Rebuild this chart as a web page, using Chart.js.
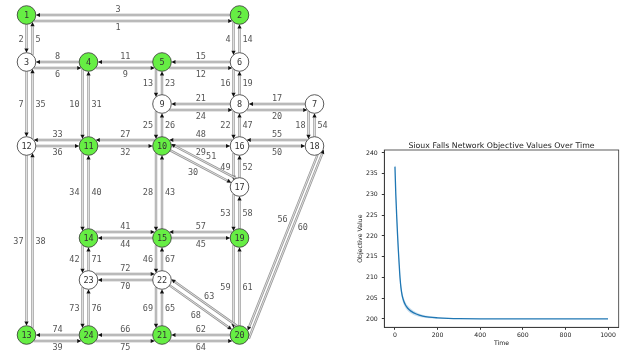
<!DOCTYPE html>
<html>
<head>
<meta charset="utf-8">
<script src="https://cdn.jsdelivr.net/npm/chart.js@4.4.1/dist/chart.umd.min.js"></script>
<style>
  html, body { margin: 0; padding: 0; background: #fff; }
  body { width: 638px; height: 356px; position: relative; overflow: hidden; }
  #netWrap { position: absolute; left: 0; top: 0; }
  #objWrap { position: absolute; left: 338px; top: 130px; }
</style>
</head>
<body>
<div id="netWrap"><canvas id="networkChart" width="336" height="356"></canvas></div>
<div id="objWrap"><canvas id="objectiveChart" width="300" height="226"></canvas></div>
<script>
// Sioux Falls nodes, drawing coordinates (y grows downward)
const nodeIds = [1, 2, 3, 4, 5, 6, 7, 8, 9, 10, 11, 12, 13, 14, 15, 16, 17, 18, 19, 20, 21, 22, 23, 24];
const nodeX = [26.5, 239.5, 26.5, 88.5, 162, 239.5, 314.5, 239.5, 162, 162, 88.5, 26.5,
               26.5, 88.5, 162, 239.5, 239.5, 314.5, 239.5, 239.5, 162, 162, 88.5, 88.5];
const nodeY = [15, 15, 62, 62, 62, 62, 104, 104, 104, 146, 146, 146,
               335, 238, 238, 146, 187, 146, 238, 335, 335, 280, 280, 335];
const greenNodes = [1, 2, 4, 5, 10, 11, 13, 14, 15, 19, 20, 21, 24];

// directed links, link id = index + 1
const linkFrom = [1, 1, 2, 2, 3, 3, 3, 4, 4, 4, 5, 5, 5, 6, 6, 6, 7, 7, 8, 8, 8, 8, 9, 9, 9,
                  10, 10, 10, 10, 10, 11, 11, 11, 11, 12, 12, 12, 13, 13, 14, 14, 14, 15, 15, 15, 15,
                  16, 16, 16, 16, 17, 17, 17, 18, 18, 18, 19, 19, 19, 20, 20, 20, 20, 21, 21, 21,
                  22, 22, 22, 22, 23, 23, 23, 24, 24, 24];
const linkTo = [2, 3, 1, 6, 1, 4, 12, 3, 5, 11, 4, 6, 9, 2, 5, 8, 8, 18, 6, 7, 9, 16, 5, 8, 10,
                9, 11, 15, 16, 17, 4, 10, 12, 14, 3, 11, 13, 12, 24, 11, 15, 23, 10, 14, 19, 22,
                8, 10, 17, 18, 10, 16, 19, 7, 16, 20, 15, 17, 20, 18, 19, 21, 22, 20, 22, 24,
                15, 20, 21, 23, 14, 22, 24, 13, 21, 23];

// objective over time
const timeSteps = [0, 4, 8, 12, 16, 20, 24, 28, 34, 42, 50, 60, 75, 100, 130, 160, 200, 250, 300, 400, 500, 600, 700, 800, 900, 1000];
const objective = [236.7, 230.0, 225.0, 220.5, 216.5, 213.0, 209.8, 207.6, 205.6, 204.2, 203.3, 202.6, 201.9,
                   201.2, 200.7, 200.45, 200.28, 200.15, 200.08, 200.05, 200.05, 200.05, 200.05, 200.05, 200.05, 200.05];
const bandUpper = [238.3, 231.6, 226.5, 221.9, 217.8, 214.2, 210.9, 208.6, 206.5, 205.0, 204.0, 203.25, 202.45,
                   201.65, 201.05, 200.7, 200.42, 200.22, 200.12, 200.07, 200.07, 200.07, 200.07, 200.07, 200.07, 200.07];
const bandLower = [235.1, 228.4, 223.5, 219.1, 215.2, 211.8, 208.7, 206.6, 204.7, 203.4, 202.6, 201.95, 201.35,
                   200.75, 200.35, 200.2, 200.14, 200.08, 200.04, 200.03, 200.03, 200.03, 200.03, 200.03, 200.03, 200.03];
const timeTicks = [0, 200, 400, 600, 800, 1000];
const objectiveTicks = [200, 205, 210, 215, 220, 225, 230, 235, 240];
const chartTitle = 'Sioux Falls Network Objective Values Over Time';

// drawing layout: lateral shift of each directed link (px, along its right-hand normal)
const laneOffset = [6, 0, 0, 6, 6, 6, 0, 0, 6, 6, 0, 6, 6, 0, 0, 6, 0, 6, 0, 6, 0, 6, 0, 6, 6,
                    0, 6, 6, 0, 0, 0, 0, 6, 6, 6, 0, 0, 6, 6, 0, -6, 6, 0, 0, 0, 6,
                    0, 6, 6, 0, 6, 0, 6, 0, 6, -6, 6, 0, 6, 10, 0, 0, 6, 6, 0, 0,
                    0, 0, 6, 0, 0, -6, 6, 0, 6, 0];
const labelAt = { 1: 0.43, 3: 0.57, 30: 0.45, 51: 0.45, 56: 0.39, 60: 0.61 };

const NODE_R = 9.3;
const MONO = "'DejaVu Sans Mono', monospace";
const SANS = "'DejaVu Sans', sans-serif";

function partnerOf(i) {
  return linkFrom.findIndex((f, j) => f === linkTo[i] && linkTo[j] === linkFrom[i]);
}

function linkGeometry(xs, ys, i) {
  const a = linkFrom[i] - 1, b = linkTo[i] - 1;
  const ax = xs.getPixelForValue(nodeX[a]), ay = ys.getPixelForValue(nodeY[a]);
  const bx = xs.getPixelForValue(nodeX[b]), by = ys.getPixelForValue(nodeY[b]);
  const len = Math.hypot(bx - ax, by - ay);
  const dx = (bx - ax) / len, dy = (by - ay) / len;
  const nx = -dy, ny = dx;
  const o = laneOffset[i];
  const inset = Math.sqrt(Math.max(NODE_R * NODE_R - o * o, 0));
  return {
    ax, ay, len, dx, dy, nx, ny, o,
    sx: ax + nx * o + dx * inset, sy: ay + ny * o + dy * inset,
    ex: bx + nx * o - dx * inset, ey: by + ny * o - dy * inset
  };
}

const linkPlugin = {
  id: 'siouxLinks',
  beforeDatasetsDraw(chart) {
    const { ctx, scales: { x, y } } = chart;
    ctx.save();
    linkFrom.forEach((_, i) => {
      const g = linkGeometry(x, y, i);
      const arrowLen = 4.2, arrowHalf = 2.1;
      const bxp = g.ex - g.dx * arrowLen, byp = g.ey - g.dy * arrowLen;

      ctx.lineCap = 'butt';
      ctx.strokeStyle = '#969696';
      ctx.lineWidth = 2.4;
      ctx.beginPath();
      ctx.moveTo(g.sx, g.sy);
      ctx.lineTo(bxp, byp);
      ctx.stroke();
      ctx.strokeStyle = '#f0f0f0';
      ctx.lineWidth = 0.8;
      ctx.beginPath();
      ctx.moveTo(g.sx, g.sy);
      ctx.lineTo(bxp, byp);
      ctx.stroke();

      ctx.fillStyle = '#111';
      ctx.beginPath();
      ctx.moveTo(g.ex, g.ey);
      ctx.lineTo(bxp + g.nx * arrowHalf, byp + g.ny * arrowHalf);
      ctx.lineTo(bxp - g.nx * arrowHalf, byp - g.ny * arrowHalf);
      ctx.closePath();
      ctx.fill();
    });

    // link ids
    ctx.font = '8.5px ' + MONO;
    ctx.fillStyle = '#555';
    ctx.textAlign = 'center';
    ctx.textBaseline = 'alphabetic';
    const h = 6.2;
    linkFrom.forEach((_, i) => {
      const g = linkGeometry(x, y, i);
      const id = i + 1;
      const p = partnerOf(i);
      const side = Math.sign(g.o + laneOffset[p]) || 1;
      const t = labelAt[id] ?? 0.5;
      const text = String(id);
      const w = ctx.measureText(text).width;
      const dist = 3 + Math.abs(g.nx) * w / 2 + Math.abs(g.ny) * h / 2;
      const bx0 = g.ax + g.dx * g.len * t + g.nx * g.o;
      const by0 = g.ay + g.dy * g.len * t + g.ny * g.o;
      const cx = bx0 + g.nx * side * dist;
      const cy = by0 + g.ny * side * dist;
      ctx.fillText(text, cx, cy + h / 2);
    });
    ctx.restore();
  },
  afterDatasetsDraw(chart) {
    const { ctx, scales: { x, y } } = chart;
    ctx.save();
    ctx.font = '8.5px ' + MONO;
    ctx.fillStyle = '#333';
    ctx.textAlign = 'center';
    ctx.textBaseline = 'alphabetic';
    nodeIds.forEach((id, i) => {
      ctx.fillText(String(id), x.getPixelForValue(nodeX[i]), y.getPixelForValue(nodeY[i]) + 3.1);
    });
    ctx.restore();
  }
};

new Chart(document.getElementById('networkChart'), {
  type: 'scatter',
  data: {
    datasets: [{
      label: 'nodes',
      data: nodeX.map((nx, i) => ({ x: nx, y: nodeY[i] })),
      pointRadius: NODE_R,
      pointHoverRadius: NODE_R,
      backgroundColor: nodeIds.map(id => greenNodes.includes(id) ? '#66ee44' : '#ffffff'),
      borderColor: '#333',
      borderWidth: 0.8,
      clip: false
    }]
  },
  options: {
    responsive: false,
    animation: false,
    events: [],
    layout: { padding: 0, autoPadding: false },
    plugins: { legend: { display: false }, tooltip: { enabled: false } },
    scales: {
      x: { type: 'linear', min: 0, max: 336, display: false },
      y: { type: 'linear', min: 0, max: 356, reverse: true, display: false }
    }
  },
  plugins: [linkPlugin]
});

// matplotlib-like frame, title centred over the axes box
const framePlugin = {
  id: 'axesFrame',
  afterDraw(chart) {
    const { ctx, chartArea: a } = chart;
    ctx.save();
    ctx.strokeStyle = '#333';
    ctx.lineWidth = 0.8;
    ctx.strokeRect(a.left, a.top, a.right - a.left, a.bottom - a.top);
    ctx.font = '7.8px ' + SANS;
    ctx.fillStyle = '#222';
    ctx.textAlign = 'center';
    ctx.textBaseline = 'alphabetic';
    ctx.fillText(chartTitle, (a.left + a.right) / 2, a.top - 1.6);
    ctx.restore();
  }
};

const tickFont = { family: SANS, size: 6.2 };

new Chart(document.getElementById('objectiveChart'), {
  type: 'line',
  data: {
    datasets: [
      {
        label: 'upper',
        data: timeSteps.map((t, i) => ({ x: t, y: bandUpper[i] })),
        borderWidth: 0, pointRadius: 0, fill: false, order: 1
      },
      {
        label: 'lower',
        data: timeSteps.map((t, i) => ({ x: t, y: bandLower[i] })),
        borderWidth: 0, pointRadius: 0, fill: '-1',
        backgroundColor: 'rgba(31, 119, 180, 0.22)', order: 1
      },
      {
        label: 'Objective Value',
        data: timeSteps.map((t, i) => ({ x: t, y: objective[i] })),
        borderColor: '#1f77b4', borderWidth: 1.3, pointRadius: 0, fill: false, order: 0
      }
    ]
  },
  options: {
    responsive: false,
    animation: false,
    events: [],
    layout: { padding: { top: 20, right: 19.3 } },
    elements: { line: { cubicInterpolationMode: 'monotone' } },
    plugins: {
      legend: { display: false },
      tooltip: { enabled: false },
      title: { display: false }
    },
    scales: {
      x: {
        type: 'linear',
        min: -50,
        max: 1050,
        afterBuildTicks: s => { s.ticks = timeTicks.map(v => ({ value: v })); },
        afterFit: s => { s.height = 28.7; },
        grid: { drawOnChartArea: false, drawTicks: true, tickLength: 2.5, color: '#333' },
        border: { display: true, color: '#333', width: 0.8 },
        ticks: { color: '#222', font: tickFont, padding: 2, maxRotation: 0, callback: v => String(v) },
        title: { display: true, text: 'Time', color: '#222', font: tickFont, padding: { top: 0, bottom: 8.4 } }
      },
      y: {
        type: 'linear',
        min: 198,
        max: 240.7,
        afterBuildTicks: s => { s.ticks = objectiveTicks.map(v => ({ value: v })); },
        afterFit: s => { s.width = 46.3; },
        grid: { drawOnChartArea: false, drawTicks: true, tickLength: 2.5, color: '#333' },
        border: { display: true, color: '#333', width: 0.8 },
        ticks: { color: '#222', font: tickFont, padding: 4, callback: v => String(v) },
        title: { display: true, text: 'Objective Value', color: '#222', font: tickFont, padding: { top: 18.4, bottom: 0 } }
      }
    }
  },
  plugins: [framePlugin]
});
</script>
</body>
</html>
